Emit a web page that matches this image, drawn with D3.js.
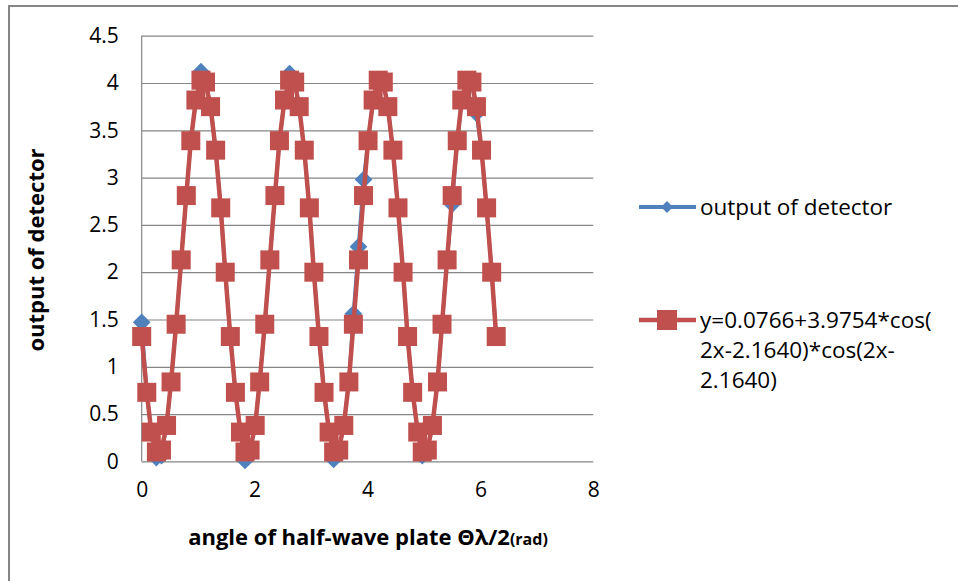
<!DOCTYPE html>
<html lang="en">
<head>
<meta charset="UTF-8">
<title>output of detector</title>
<style>
  body { margin: 0; background: #fff; }
  svg { display: block; font-family: "Open Sans", Lato, sans-serif; }
</style>
</head>
<body>
<div id="chart"></div>
<script src="https://d3js.org/d3.v7.min.js"></script>
<script>
// angle of half-wave plate (rad), 5 degree steps
const angles = [0, 0.09, 0.17, 0.26, 0.35, 0.44, 0.52, 0.61, 0.70, 0.79, 0.87, 0.96, 1.05, 1.13, 1.22, 1.31, 1.40, 1.48,
  1.57, 1.66, 1.75, 1.83, 1.92, 2.01, 2.09, 2.18, 2.27, 2.36, 2.44, 2.53, 2.62, 2.71, 2.79, 2.88, 2.97, 3.05,
  3.14, 3.23, 3.32, 3.40, 3.49, 3.58, 3.67, 3.75, 3.84, 3.93, 4.01, 4.10, 4.19, 4.28, 4.36, 4.45, 4.54, 4.63,
  4.71, 4.80, 4.89, 4.97, 5.06, 5.15, 5.24, 5.32, 5.41, 5.50, 5.59, 5.67, 5.76, 5.85, 5.93, 6.02, 6.11, 6.20, 6.28];

// measured detector output
const detector = [1.47, 0.73, 0.30, 0.04, 0.06, 0.38, 0.84, 1.45, 2.13, 2.81, 3.39, 3.82, 4.12, 4.02, 3.75, 3.29, 2.68, 2.00,
  1.32, 0.73, 0.31, 0.01, 0.12, 0.38, 0.84, 1.45, 2.13, 2.81, 3.39, 3.82, 4.10, 4.01, 3.75, 3.29, 2.68, 2.00,
  1.32, 0.73, 0.31, 0.02, 0.12, 0.38, 0.84, 1.56, 2.27, 2.98, 3.39, 3.82, 4.03, 4.01, 3.75, 3.29, 2.68, 2.00,
  1.32, 0.73, 0.31, 0.06, 0.12, 0.38, 0.84, 1.45, 2.13, 2.72, 3.39, 3.82, 4.03, 4.01, 3.68, 3.29, 2.68, 2.00, 1.32];

// fitted curve values
const fitted = [1.32, 0.73, 0.31, 0.10, 0.12, 0.38, 0.84, 1.45, 2.13, 2.81, 3.39, 3.82, 4.03, 4.01, 3.75, 3.29, 2.68, 2.00,
  1.32, 0.73, 0.31, 0.10, 0.12, 0.38, 0.84, 1.45, 2.13, 2.81, 3.39, 3.82, 4.03, 4.01, 3.75, 3.29, 2.68, 2.00,
  1.32, 0.73, 0.31, 0.10, 0.12, 0.38, 0.84, 1.45, 2.13, 2.81, 3.39, 3.82, 4.03, 4.01, 3.75, 3.29, 2.68, 2.00,
  1.32, 0.73, 0.31, 0.10, 0.12, 0.38, 0.84, 1.45, 2.13, 2.81, 3.39, 3.82, 4.03, 4.01, 3.75, 3.29, 2.68, 2.00, 1.32];

const xTicks = [0, 2, 4, 6, 8];
const yTicks = [0, 0.5, 1, 1.5, 2, 2.5, 3, 3.5, 4, 4.5];
const legendNames = ["output of detector", "y=0.0766+3.9754*cos(", "2x-2.1640)*cos(2x-", "2.1640)"];

const W = 958, H = 581;
const blue = "#4F81BD", red = "#C0504D", grid = "#868686";

const svg = d3.select("#chart").append("svg")
    .attr("width", W)
    .attr("height", H);

// chart frame (runs off right and bottom)
svg.append("rect")
    .attr("x", 9).attr("y", 6)
    .attr("width", W + 20).attr("height", H + 20)
    .attr("fill", "#fff")
    .attr("stroke", grid).attr("stroke-width", 2);

const x = d3.scaleLinear().domain([0, 8]).range([141.7, 593.3]);
const y = d3.scaleLinear().domain([0, 4.5]).range([461.4, 35.7]);

// gridlines + y labels
const yAxis = svg.append("g")
    .attr("transform", "translate(141.7,0)")
    .call(d3.axisLeft(y).tickValues(yTicks).tickSize(-(593.3 - 141.7)).tickPadding(23)
        .tickFormat(d3.format("")));
yAxis.select(".domain").remove();
yAxis.selectAll("line").attr("stroke", grid).attr("stroke-width", 1.2);
yAxis.selectAll("text").attr("font-size", 21).attr("fill", "#000").attr("font-family", "'Open Sans', sans-serif");

// left axis line
svg.append("line")
    .attr("x1", x(0)).attr("x2", x(0))
    .attr("y1", y(4.5)).attr("y2", y(0))
    .attr("stroke", grid).attr("stroke-width", 1.2);

const xAxis = svg.append("g")
    .attr("transform", "translate(0,461.4)")
    .call(d3.axisBottom(x).tickValues(xTicks).tickSize(0).tickPadding(21));
xAxis.select(".domain").remove();
xAxis.selectAll("text").attr("font-size", 21).attr("fill", "#000").attr("font-family", "'Open Sans', sans-serif");

// axis titles
const xt = svg.append("text")
    .attr("x", 368).attr("y", 545)
    .attr("text-anchor", "middle")
    .attr("font-weight", "bold").attr("font-size", 22);
xt.append("tspan").text("angle of half-wave plate \u0398\u03bb/2");
xt.append("tspan").attr("font-size", 16).text("(rad)");

svg.append("text")
    .attr("transform", "translate(44,250) rotate(-90)")
    .attr("text-anchor", "middle")
    .attr("font-weight", "bold").attr("font-size", 22)
    .text("output of detector");

const pts = (vals) => angles.map((a, i) => [a, vals[i]]);
const line = d3.line().x(d => x(d[0])).y(d => y(d[1]));
const diamond = d3.symbol().type(d3.symbolDiamond2).size(200);

// detector series
svg.append("path")
    .datum(pts(detector))
    .attr("d", line)
    .attr("fill", "none").attr("stroke", blue).attr("stroke-width", 3.5);
svg.selectAll(".dia")
    .data(pts(detector))
    .join("path")
    .attr("class", "dia")
    .attr("transform", d => `translate(${x(d[0])},${y(d[1])})`)
    .attr("d", diamond)
    .attr("fill", blue);

// fit series
svg.append("path")
    .datum(pts(fitted))
    .attr("d", line)
    .attr("fill", "none").attr("stroke", red).attr("stroke-width", 4.5);
const sq = 19;
svg.selectAll(".sq")
    .data(pts(fitted))
    .join("rect")
    .attr("class", "sq")
    .attr("x", d => x(d[0]) - sq / 2)
    .attr("y", d => y(d[1]) - sq / 2)
    .attr("width", sq).attr("height", sq)
    .attr("fill", red);

// legend
const lg = svg.append("g");
lg.append("line").attr("x1", 639).attr("x2", 696).attr("y1", 207).attr("y2", 207)
    .attr("stroke", blue).attr("stroke-width", 4);
lg.append("path").attr("transform", "translate(667,207)")
    .attr("d", d3.symbol().type(d3.symbolDiamond2).size(90)).attr("fill", blue);
lg.append("text").attr("x", 700).attr("y", 207).attr("dy", "0.35em")
    .attr("font-size", 22.5).text(legendNames[0]);

lg.append("line").attr("x1", 639).attr("x2", 696).attr("y1", 320).attr("y2", 320)
    .attr("stroke", red).attr("stroke-width", 4.5);
lg.append("rect").attr("x", 657).attr("y", 310).attr("width", 20).attr("height", 20).attr("fill", red);
legendNames.slice(1).forEach((t, i) => {
  lg.append("text").attr("x", 700).attr("y", 320 + i * 30).attr("dy", "0.35em")
      .attr("font-size", 22.5).text(t);
});
</script>
</body>
</html>
